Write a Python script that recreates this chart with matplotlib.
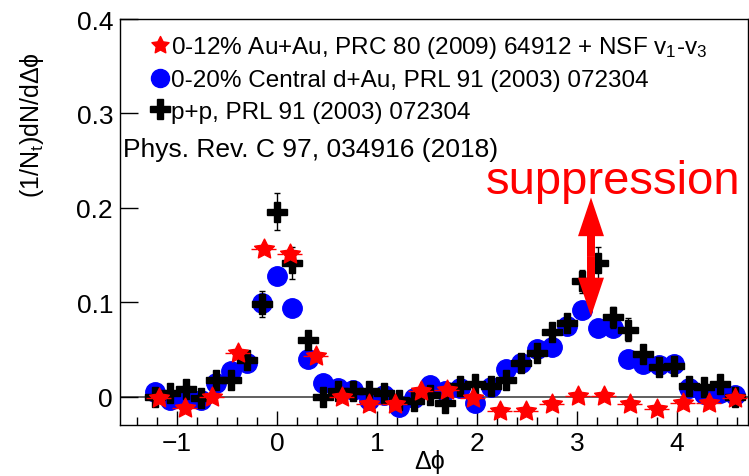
import numpy as np
import matplotlib
matplotlib.use("Agg")
import matplotlib.pyplot as plt
from matplotlib.lines import Line2D
from matplotlib.path import Path

plt.rcParams['font.family'] = ['Liberation Sans', 'DejaVu Sans']
plt.rcParams['mathtext.fontset'] = 'custom'
plt.rcParams['mathtext.rm'] = 'Liberation Sans'
plt.rcParams['mathtext.it'] = 'Liberation Sans:italic'
plt.rcParams['mathtext.sf'] = 'Liberation Sans'

# d+Au and p+p share the same binning
dphi = [-1.22, -1.07, -0.91, -0.76, -0.61, -0.46, -0.30, -0.15, 0.00, 0.15,
        0.31, 0.46, 0.61, 0.76, 0.92, 1.07, 1.22, 1.37, 1.53, 1.68,
        1.83, 1.98, 2.14, 2.29, 2.44, 2.60, 2.75, 2.90, 3.05, 3.21,
        3.36, 3.51, 3.66, 3.82, 3.97, 4.12, 4.27, 4.43, 4.58]

dau_y = [0.005, -0.004, 0.002, -0.004, 0.014, 0.027, 0.036, 0.099, 0.128, 0.094,
         0.040, 0.014, 0.009, 0.007, -0.003, 0.002, -0.011, -0.001, 0.012, 0.006,
         0.009, -0.007, 0.010, 0.029, 0.036, 0.050, 0.053, 0.075, 0.092, 0.073,
         0.073, 0.040, 0.035, 0.034, 0.035, 0.009, 0.003, 0.004, 0.002]

pp_y = [0.000, 0.004, 0.008, -0.001, 0.018, 0.018, 0.039, 0.098, 0.196, 0.142,
        0.060, 0.000, 0.006, 0.006, 0.006, 0.004, -0.003, -0.005, 0.002, -0.007,
        0.011, 0.013, 0.011, 0.018, 0.036, 0.046, 0.068, 0.078, 0.122, 0.142,
        0.084, 0.071, 0.045, 0.031, 0.032, 0.011, 0.010, 0.013, 0.000]

pp_err = [0.005, 0.005, 0.005, 0.005, 0.005, 0.005, 0.006, 0.014, 0.020, 0.017,
          0.006, 0.005, 0.005, 0.005, 0.005, 0.005, 0.005, 0.005, 0.005, 0.005,
          0.005, 0.005, 0.005, 0.005, 0.006, 0.006, 0.007, 0.010, 0.012, 0.017,
          0.011, 0.012, 0.007, 0.006, 0.006, 0.005, 0.005, 0.005, 0.005]

# Au+Au, coarser bins
auau_x = [-1.18, -0.92, -0.65, -0.39, -0.13, 0.13, 0.39, 0.65, 0.92, 1.18,
          1.44, 1.70, 1.96, 2.23, 2.49, 2.75, 3.01, 3.27, 3.53, 3.80,
          4.06, 4.32, 4.58]
auau_y = [-0.001, -0.012, 0.000, 0.046, 0.156, 0.151, 0.043, 0.000, -0.008, -0.008,
          0.006, 0.007, -0.001, -0.015, -0.015, -0.008, 0.001, 0.001, -0.008, -0.013,
          -0.007, -0.007, -0.001]
auau_halfbin = 0.13

labels = ["0-12% Au+Au, PRC 80 (2009) 64912 + NSF v$_1$-v$_3$",
          "0-20% Central d+Au, PRL 91 (2003) 072304",
          "p+p, PRL 91 (2003) 072304"]

arrow_x = np.pi
arrow_top = 0.211
arrow_bot = 0.085

# fatter five-pointed star
star = Path.unit_regular_star(5, innerCircle=0.5)

fig = plt.figure(figsize=(7.49, 4.77), dpi=100)
ax = fig.add_axes([120/749, 1 - 426/477, 628/749, 406/477])

ax.axhline(0, color='#444444', lw=1.2, zorder=1)

ax.plot(dphi, dau_y, 'o', color='blue', ms=14, mec='blue', zorder=3)
ax.errorbar(dphi, pp_y, yerr=pp_err, fmt='P', color='black', ms=15,
            elinewidth=1, capsize=2.5, capthick=1, zorder=4)
eb = ax.errorbar(auau_x, auau_y, xerr=auau_halfbin, fmt='none', ecolor='red',
                 elinewidth=1, zorder=5)
eb[2][0].set_linestyle((0, (4, 3)))
ax.plot(auau_x, auau_y, ls='none', marker=star, color='red', ms=15, zorder=5)

# double headed arrow built from two halves
mid = 0.5 * (arrow_top + arrow_bot)
for tip in (arrow_top, arrow_bot):
    ax.arrow(arrow_x, mid, 0, tip - mid, width=0.08, head_width=0.26,
             head_length=0.041, length_includes_head=True, color='red',
             lw=0, zorder=6)
ax.text(2.09, 0.216, "suppression", color='red', fontsize=34,
        ha='left', va='baseline', zorder=7)

ax.set_xlim(-np.pi/2, 3*np.pi/2)
ax.set_ylim(-0.03, 0.4)
ax.set_xticks([-1, 0, 1, 2, 3, 4])
ax.set_xticks(np.arange(-1.4, 4.7, 0.2), minor=True)
ax.set_yticks([0, 0.1, 0.2, 0.3, 0.4])
ax.set_yticklabels(['0', '0.1', '0.2', '0.3', '0.4'])
ax.set_xticklabels(['\u22121', '0', '1', '2', '3', '4'])
ax.tick_params(axis='x', which='major', direction='in', length=10, width=1,
               labelsize=19, pad=4)
ax.tick_params(axis='x', which='minor', direction='in', length=6, width=1)
ax.tick_params(axis='y', which='major', direction='in', length=13, width=1,
               labelsize=19, pad=5)
ax.tick_params(axis='y', which='minor', left=False)
for s in ax.spines.values():
    s.set_linewidth(1)

handles = [Line2D([], [], ls='none', marker=star, color='red', ms=13),
           Line2D([], [], ls='none', marker='o', color='blue', ms=13),
           Line2D([], [], ls='none', marker='P', color='black', ms=14)]
ax.legend(handles, labels, loc='upper left', bbox_to_anchor=(0.052, 0.963),
          frameon=False, fontsize=17.5, handlelength=0.6, handletextpad=0.15,
          labelspacing=0.38, borderpad=0, borderaxespad=0)

ax.text(0.005, 0.68, "Phys. Rev. C 97, 034916 (2018)", transform=ax.transAxes,
        fontsize=19, ha='left', va='center')

fig.text(32/749, 1 - 125/477, "(1/N$_\\mathrm{t}$)dN/d\u0394\u03d5",
         rotation=90, ha='center', va='center', fontsize=18)
fig.text(430/749, 1 - 462/477, "\u0394\u03d5", ha='center', va='center',
         fontsize=18)

fig.savefig("out.png", dpi=100)
